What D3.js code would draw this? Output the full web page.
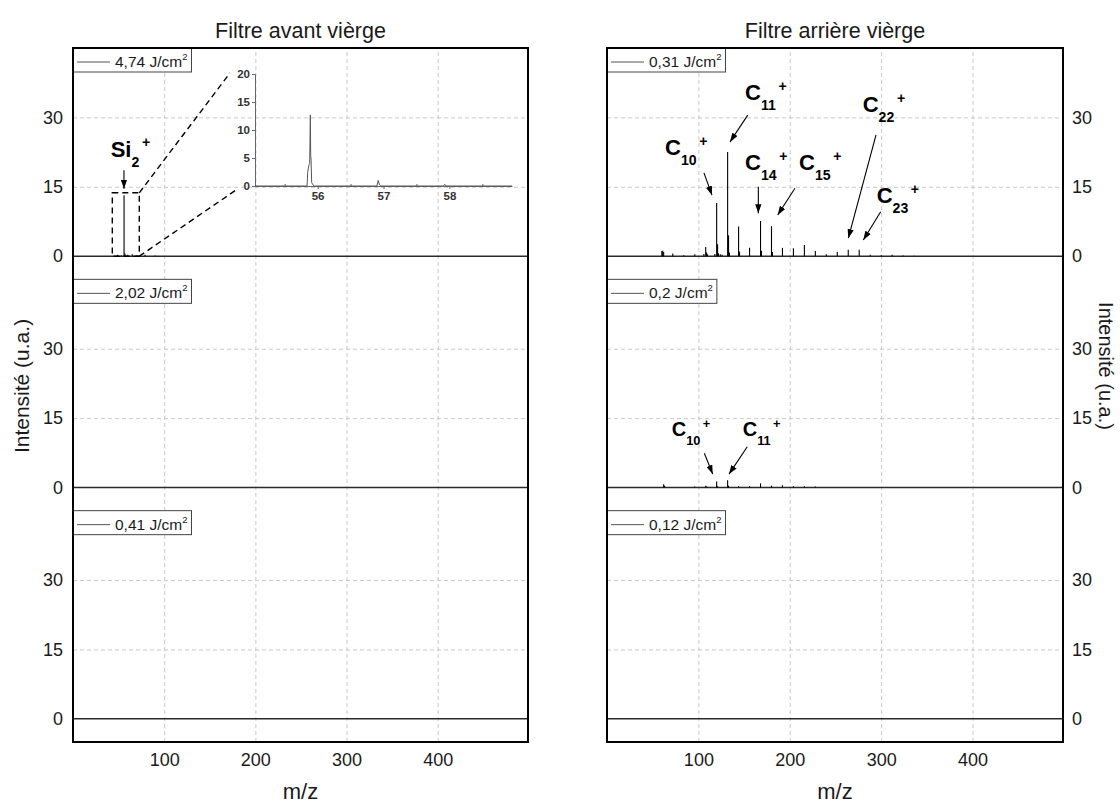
<!DOCTYPE html>
<html><head><meta charset="utf-8">
<script src="https://cdn.jsdelivr.net/npm/d3@7/dist/d3.min.js"></script>
<style>
body{margin:0;background:#fff;}
svg{display:block;font-family:Arial,"Liberation Sans",sans-serif;}
</style></head><body>
<svg id="chart" width="1120" height="803"></svg>
<script>
// ---------------- data ----------------
const xTicks = [100, 200, 300, 400];
const yTicks = [0, 15, 30];
const columnTitles = ["Filtre avant vièrge", "Filtre arrière vièrge"];
const fluencesFront = ["4,74", "2,02", "0,41"];
const fluencesBack = ["0,31", "0,2", "0,12"];
// stick spectra: [m/z, intensity]
const front474 = [[49,0.3],[53,0.2],[56,13.2],[57,0.6],[60,0.3],[65,0.4],[70,0.2],[79,0.3],[90,0.15]];
const front202 = [];
const front041 = [];
const back031 = [[60,1.1],[61,1.2],[62,0.9],[72,0.6],[84,0.2],[96,0.4],[106,0.5],[108,2.0],[109,0.8],[110,0.4],
  [118,0.5],[120,11.5],[121,2.6],[122,0.6],[124,0.4],[126,0.3],[132,22.5],[133,4.5],[134,0.8],[144,6.4],[145,1.0],
  [156,1.8],[168,7.6],[169,1.2],[180,6.5],[181,0.9],[192,1.8],[204,1.7],[216,2.4],[228,1.1],[240,0.4],[252,0.9],
  [264,1.4],[276,1.4],[288,0.3],[300,0.2],[312,0.3],[324,0.15],[336,0.1]];
const back020 = [[62,0.7],[63,0.4],[96,0.2],[108,0.4],[109,0.2],[120,1.3],[121,0.3],[132,1.6],[133,0.4],[144,0.3],
  [156,0.3],[168,0.9],[180,0.4],[192,0.5],[204,0.3],[216,0.3],[228,0.2]];
const back012 = [];
// inset (zoom on Si2+ at 4,74 J/cm2): profile [m/z, intensity]
const insetProfile = [[55.05,0],[55.84,0],[55.85,2.4],[55.86,3.2],[55.87,3.8],[55.88,4.0],[55.89,12.7],[55.895,5.4],
  [55.9,5.0],[55.91,0.6],[55.93,0.2],[55.95,0],[56.9,0],[56.92,1.0],[56.94,0.2],[56.96,0],[57.91,0],[57.93,0.3],
  [57.95,0],[58.95,0]];
const insetXTicks = [56, 57, 58];
const insetXMinor = [55.5, 56.5, 57.5, 58.5];
const insetYTicks = [0, 5, 10, 15, 20];

// ---------------- layout ----------------
const svg = d3.select("#chart");
const TOP = 48, BOTTOM = 742, NROWS = 3, ROWH = (BOTTOM - TOP) / NROWS;
const INK = "#1a1a1a";
const FONT = "Arial, Liberation Sans, sans-serif";

const defs = svg.append("defs");
defs.append("marker").attr("id", "arr").attr("viewBox", "0 0 10 7")
  .attr("refX", 10).attr("refY", 3.5).attr("markerWidth", 9).attr("markerHeight", 6.5)
  .attr("markerUnits", "userSpaceOnUse").attr("orient", "auto")
  .append("path").attr("d", "M0,0 L10,3.5 L0,7 Z").attr("fill", "#000");

const cols = [
  {x0: 73, x1: 528, side: "left", title: columnTitles[0], fluences: fluencesFront, spectra: [front474, front202, front041]},
  {x0: 607, x1: 1063, side: "right", title: columnTitles[1], fluences: fluencesBack, spectra: [back031, back020, back012]}
];

function label(g, px, py, base, sub, s) {
  const t = g.append("text").attr("x", px).attr("y", py).attr("font-weight", "bold")
    .attr("font-size", s).attr("fill", "#000");
  t.append("tspan").text(base);
  t.append("tspan").attr("font-size", s * 0.64).attr("dy", s * 0.45).text(sub);
  t.append("tspan").attr("font-size", s * 0.64).attr("dx", s * 0.12).attr("dy", -s * 0.87).text("+");
}
function arrow(g, x1, y1, x2, y2) {
  g.append("line").attr("x1", x1).attr("y1", y1).attr("x2", x2).attr("y2", y2)
    .attr("stroke", "#000").attr("stroke-width", 1.1).attr("marker-end", "url(#arr)");
}

cols.forEach((c, ci) => {
  const x = d3.scaleLinear().domain([0, 499]).range([c.x0, c.x1]);
  c.x = x;
  const g = svg.append("g");

  // vertical grid
  g.append("g").attr("transform", `translate(0,${BOTTOM})`)
    .call(d3.axisBottom(x).tickValues(xTicks).tickSize(-(BOTTOM - TOP)).tickFormat(""))
    .call(a => a.select(".domain").remove())
    .call(a => a.selectAll("line").attr("stroke", "#c8c8c8").attr("stroke-dasharray", "4,3"));

  // x tick labels
  g.append("g").attr("transform", `translate(0,${BOTTOM})`)
    .call(d3.axisBottom(x).tickValues(xTicks).tickSize(0).tickPadding(11))
    .call(a => a.select(".domain").remove())
    .call(a => a.selectAll("text").attr("font-size", 18).attr("fill", INK).attr("font-family", FONT));

  c.rows = [];
  for (let r = 0; r < NROWS; r++) {
    const rt = TOP + r * ROWH;
    const y = d3.scaleLinear().domain([-5, 45]).range([rt + ROWH, rt]);
    c.rows.push(y);
    const rg = g.append("g");
    // horizontal grid
    rg.append("g").attr("transform", `translate(${c.x0},0)`)
      .call(d3.axisLeft(y).tickValues([15, 30]).tickSize(-(c.x1 - c.x0)).tickFormat(""))
      .call(a => a.select(".domain").remove())
      .call(a => a.selectAll("line").attr("stroke", "#c8c8c8").attr("stroke-dasharray", "4,3"));
    // y labels
    const ax = c.side === "left" ? d3.axisLeft(y) : d3.axisRight(y);
    rg.append("g").attr("transform", `translate(${c.side === "left" ? c.x0 : c.x1},0)`)
      .call(ax.tickValues(yTicks).tickSize(0).tickPadding(c.side === "left" ? 10 : 9))
      .call(a => a.select(".domain").remove())
      .call(a => a.selectAll("text").attr("font-size", 18).attr("fill", INK).attr("font-family", FONT));
    // baseline
    rg.append("path").datum([[0, 0], [499, 0]])
      .attr("d", d3.line().x(d => x(d[0])).y(d => y(d[1])))
      .attr("stroke", "#2a2a2a").attr("stroke-width", 1.5).attr("fill", "none");
    // peaks
    rg.selectAll("line.pk").data(c.spectra[r]).join("line").attr("class", "pk")
      .attr("x1", d => x(d[0])).attr("x2", d => x(d[0]))
      .attr("y1", y(0)).attr("y2", d => y(d[1]))
      .attr("stroke", "#000").attr("stroke-width", 1.1);
    // legend
    const lg = rg.append("g");
    const box = lg.append("rect").attr("x", c.x0).attr("y", rt).attr("height", 24)
      .attr("fill", "#fff").attr("stroke", "#444").attr("stroke-width", 1);
    lg.append("line").attr("x1", c.x0 + 4).attr("x2", c.x0 + 37).attr("y1", rt + 14).attr("y2", rt + 14)
      .attr("stroke", "#555").attr("stroke-width", 1);
    const lt = lg.append("text").attr("x", c.x0 + 42).attr("y", rt + 19).attr("font-size", 15.5).attr("fill", INK);
    lt.append("tspan").text(c.fluences[r] + " J/cm");
    lt.append("tspan").attr("font-size", 9.5).attr("dy", -7).text("2");
    const tw = lt.node().getComputedTextLength();
    box.attr("width", 42 + tw + 4);
  }

  // frame
  g.append("rect").attr("x", c.x0).attr("y", TOP).attr("width", c.x1 - c.x0).attr("height", BOTTOM - TOP)
    .attr("fill", "none").attr("stroke", "#000").attr("stroke-width", 2);

  // titles
  svg.append("text").attr("x", (c.x0 + c.x1) / 2).attr("y", 38).attr("text-anchor", "middle")
    .attr("font-size", 21.5).attr("fill", INK).text(c.title);
  svg.append("text").attr("x", (c.x0 + c.x1) / 2).attr("y", 799).attr("text-anchor", "middle")
    .attr("font-size", 22).attr("fill", INK).text("m/z");
});

// y axis titles
svg.append("text").attr("transform", "translate(29,386) rotate(-90)").attr("text-anchor", "middle")
  .attr("font-size", 21).attr("fill", INK).text("Intensité (u.a.)");
svg.append("text").attr("transform", "translate(1099,366) rotate(90)").attr("text-anchor", "middle")
  .attr("font-size", 20).attr("fill", INK).text("Intensité (u.a.)");

// ---------------- annotations ----------------
const ann = svg.append("g");
{ // front 4,74 : Si2+ zoom box and inset
  const x = cols[0].x, y = cols[0].rows[0];
  const ix = d3.scaleLinear().domain([55.05, 58.95]).range([255, 512]);
  const iy = d3.scaleLinear().domain([0, 20]).range([186, 74]);
  ann.append("rect").attr("x", x(43.1)).attr("y", y(13.7)).attr("width", x(72.7) - x(43.1)).attr("height", y(0) - y(13.7))
    .attr("fill", "none").attr("stroke", "#000").attr("stroke-width", 1.4).attr("stroke-dasharray", "6,4");
  ann.append("line").attr("x1", x(72.7)).attr("y1", y(13.7)).attr("x2", ix.range()[0] - 25).attr("y2", iy(20) - 1)
    .attr("stroke", "#000").attr("stroke-width", 1.4).attr("stroke-dasharray", "6,4");
  ann.append("line").attr("x1", x(72.7)).attr("y1", y(0)).attr("x2", ix.range()[0] - 19).attr("y2", iy(0) + 4)
    .attr("stroke", "#000").attr("stroke-width", 1.4).attr("stroke-dasharray", "6,4");
  label(ann, x(41.3), y(21.5), "Si", "2", 22);
  arrow(ann, x(55.9), y(18.6), x(55.9), y(14.6));

  const ig = ann.append("g");
  ig.append("g").attr("transform", `translate(${ix.range()[0]},0)`)
    .call(d3.axisLeft(iy).tickValues(insetYTicks).tickSize(3).tickPadding(2))
    .call(a => a.select(".domain").attr("stroke", "#666"))
    .call(a => a.selectAll("line").attr("stroke", "#666"))
    .call(a => a.selectAll("text").attr("font-size", 11.5).attr("font-weight", "bold").attr("fill", "#333").attr("font-family", FONT));
  ig.append("g").attr("transform", `translate(0,${iy(0)})`)
    .call(d3.axisBottom(ix).tickValues(insetXTicks).tickFormat(d3.format("d")).tickSize(3).tickPadding(3).tickSizeOuter(0))
    .call(a => a.select(".domain").attr("stroke", "#666"))
    .call(a => a.selectAll("line").attr("stroke", "#666"))
    .call(a => a.selectAll("text").attr("font-size", 11.5).attr("font-weight", "bold").attr("fill", "#333").attr("font-family", FONT));
  ig.append("g").attr("transform", `translate(0,${iy(0)})`)
    .call(d3.axisTop(ix).tickValues(insetXMinor).tickSize(2).tickFormat("").tickSizeOuter(0))
    .call(a => a.select(".domain").remove())
    .call(a => a.selectAll("line").attr("stroke", "#666"));
  ig.append("path").datum(insetProfile)
    .attr("d", d3.line().x(d => ix(d[0])).y(d => iy(d[1])))
    .attr("fill", "none").attr("stroke", "#555").attr("stroke-width", 1);
}
{ // back 0,31
  const x = cols[1].x, y = cols[1].rows[0];
  const A = [
    {s: "10", lx: 63.5, ly: 21.9, a: [106.1, 18.0, 114.9, 13.2]},
    {s: "11", lx: 151, ly: 33.8, a: [154, 30.5, 134.6, 24.7]},
    {s: "14", lx: 151, ly: 18.6, a: [165.6, 15.0, 165.6, 9.3]},
    {s: "15", lx: 210.1, ly: 18.6, a: [205.7, 14.7, 186.8, 8.9]},
    {s: "22", lx: 279.8, ly: 31.2, a: [294.4, 26.2, 264.1, 3.9]},
    {s: "23", lx: 295.1, ly: 11.5, a: [299.5, 9.6, 280.5, 3.5]}
  ];
  A.forEach(d => {
    label(ann, x(d.lx), y(d.ly), "C", d.s, 22);
    arrow(ann, x(d.a[0]), y(d.a[1]), x(d.a[2]), y(d.a[3]));
  });
}
{ // back 0,2
  const x = cols[1].x, y = cols[1].rows[1];
  const A = [
    {s: "10", lx: 70.8, ly: 11.1, a: [106.5, 7.4, 115.7, 2.9]},
    {s: "11", lx: 148.5, ly: 11.1, a: [153.5, 8.8, 133.5, 2.9]}
  ];
  A.forEach(d => {
    label(ann, x(d.lx), y(d.ly), "C", d.s, 20);
    arrow(ann, x(d.a[0]), y(d.a[1]), x(d.a[2]), y(d.a[3]));
  });
}
</script>
</body></html>
